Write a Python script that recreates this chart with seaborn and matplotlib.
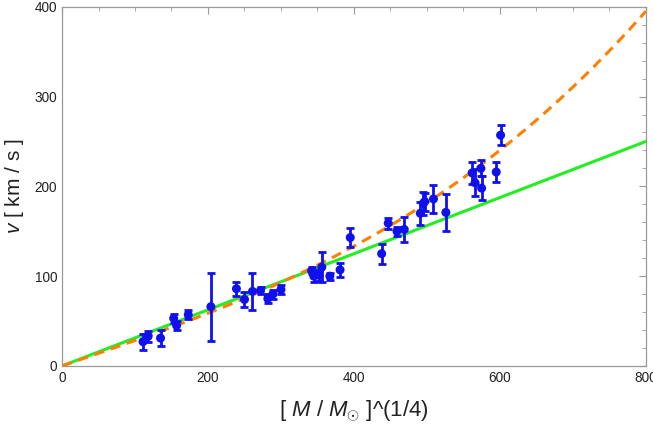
import numpy as np
import pandas as pd
import matplotlib
matplotlib.use("Agg")
import matplotlib.pyplot as plt
import seaborn as sns
from matplotlib.ticker import MultipleLocator

sns.set_theme(style="white")
plt.rcParams['font.family'] = ['Liberation Sans', 'DejaVu Sans']
plt.rcParams['mathtext.fontset'] = 'custom'
plt.rcParams['mathtext.rm'] = 'Liberation Sans'
plt.rcParams['mathtext.it'] = 'Liberation Sans:italic'

# data
mass_quarter = [111, 118, 135, 153, 157, 173, 204, 239, 250, 261, 272, 282, 289, 300,
                342, 345, 352, 356, 367, 381, 395, 438, 447, 459, 469, 491, 495, 497,
                509, 526, 562, 566, 574, 575, 595, 601]
velocity = [27, 33, 31, 53, 45, 57, 66, 86, 74, 83, 84, 75, 80, 85,
            106, 100, 101, 110, 100, 107, 143, 125, 159, 150, 152, 170, 181, 183,
            186, 171, 215, 204, 220, 198, 216, 257]
velocity_err = [9, 6, 9, 5, 5, 5, 38, 8, 8, 21, 4, 5, 5, 5,
                4, 6, 6, 17, 4, 8, 11, 11, 6, 5, 14, 13, 13, 10,
                16, 21, 12, 15, 9, 13, 11, 11]

# model curves
linear_slope = 0.3125             # green: v = k x
cubic_a, cubic_c = 0.28, 3.34e-7  # orange: v = a x + c x^3

df = pd.DataFrame({"x": mass_quarter, "v": velocity, "err": velocity_err})
xs = np.linspace(0, 800, 400)
lines = pd.DataFrame({"x": xs,
                      "lin": linear_slope * xs,
                      "cub": cubic_a * xs + cubic_c * xs**3})

fig = plt.figure(figsize=(6.53, 4.25), dpi=100)
ax = fig.add_axes([0.095, 0.139, 0.894, 0.845])

sns.lineplot(data=lines, x="x", y="lin", ax=ax, color="#22ee22", lw=2.2, zorder=3)
sns.lineplot(data=lines, x="x", y="cub", ax=ax, color="#ff8000", lw=2.2,
             dashes=False, zorder=4).lines[-1].set_linestyle((0, (3.4, 2.2)))
ax.errorbar(df["x"], df["v"], yerr=df["err"], fmt="none", ecolor="#1010ee",
            elinewidth=2, capsize=3.2, capthick=2, zorder=5)
sns.scatterplot(data=df, x="x", y="v", ax=ax, color="#1010ee", s=42,
                edgecolor="none", zorder=6)

ax.set_xlim(0, 800)
ax.set_ylim(0, 400)
ax.xaxis.set_major_locator(MultipleLocator(200))
ax.xaxis.set_minor_locator(MultipleLocator(50))
ax.yaxis.set_major_locator(MultipleLocator(100))
ax.yaxis.set_minor_locator(MultipleLocator(20))
ax.tick_params(which="both", direction="in", top=True, right=True,
               color="#999999", labelsize=9.8, labelcolor="#222222")
ax.tick_params(which="major", length=5, width=0.8)
ax.tick_params(which="minor", length=3, width=0.6)
ax.tick_params(axis="x", labeltop=False)
ax.tick_params(axis="y", labelright=False)
for sp in ax.spines.values():
    sp.set_color("#999999")
    sp.set_linewidth(0.9)

ax.set_xlabel(r"[ $\mathit{M}$ / $\mathit{M}_{\odot}$ ]^(1/4)", fontsize=16, color="#222222", labelpad=10)
ax.set_ylabel(r"$\mathit{v}$ [ km / s ]", fontsize=15, color="#222222", labelpad=6)

fig.savefig("out.png", dpi=100)
